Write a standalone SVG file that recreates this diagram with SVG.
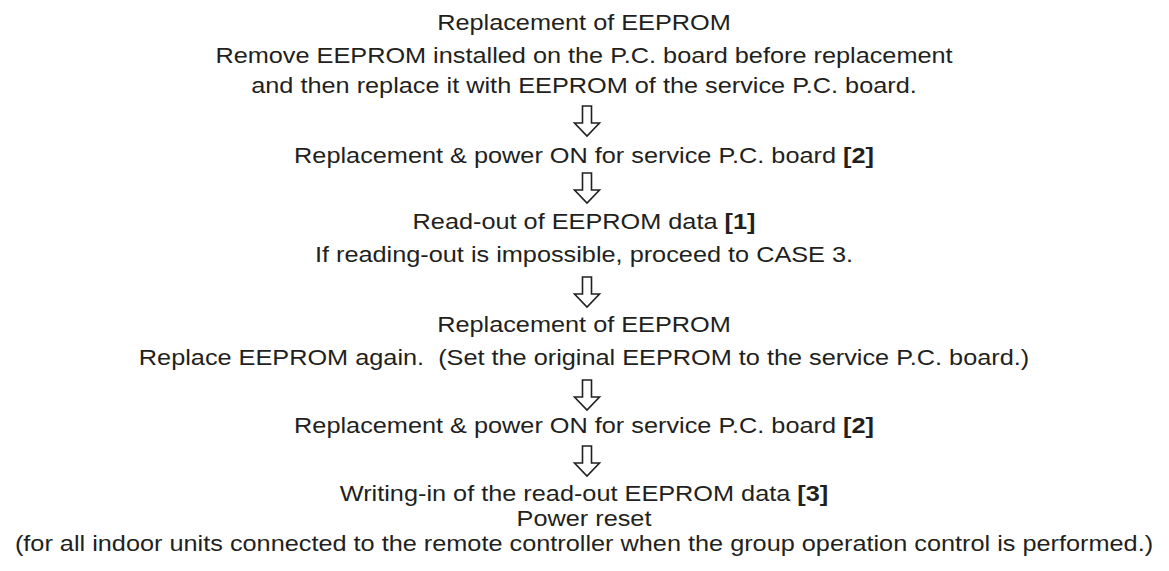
<svg xmlns="http://www.w3.org/2000/svg" width="1169" height="571" viewBox="0 0 1169 571">
<style>
text{font-family:"Liberation Sans",Arial,Helvetica,sans-serif;font-size:22px;fill:#231f20;text-anchor:middle;white-space:pre}
.b{font-weight:bold}
.arr{fill:#fff;stroke:#231f20;stroke-width:1.6;stroke-linejoin:miter}
</style>
<defs>
<path id="ar" class="arr" d="M-4.5,0 H4.5 V17 H12.5 L0,30 L-12.5,17 H-4.5 Z"/>
</defs>
<rect width="1169" height="571" fill="#fff"/>
<g transform="translate(584,0) scale(1.15,1)">
<g id="step1">
<text x="0" y="30">Replacement of EEPROM</text>
<text x="0" y="63">Remove EEPROM installed on the P.C. board before replacement</text>
<text x="0" y="93">and then replace it with EEPROM of the service P.C. board.</text>
</g>
<g id="step2">
<text x="0" y="163">Replacement &amp; power ON for service P.C. board <tspan class="b">[2]</tspan></text>
</g>
<g id="step3">
<text x="0" y="229">Read-out of EEPROM data <tspan class="b">[1]</tspan></text>
<text x="0" y="262">If reading-out is impossible, proceed to CASE 3.</text>
</g>
<g id="step4">
<text x="0" y="332">Replacement of EEPROM</text>
<text x="0" y="365">Replace EEPROM again.  (Set the original EEPROM to the service P.C. board.)</text>
</g>
<g id="step5">
<text x="0" y="433">Replacement &amp; power ON for service P.C. board <tspan class="b">[2]</tspan></text>
</g>
<g id="step6">
<text x="0" y="501">Writing-in of the read-out EEPROM data <tspan class="b">[3]</tspan></text>
<text x="0" y="526">Power reset</text>
<text x="0" y="551">(for all indoor units connected to the remote controller when the group operation control is performed.)</text>
</g>
</g>
<g id="connectors">
<use href="#ar" x="587" y="106"/>
<use href="#ar" x="587" y="173"/>
<use href="#ar" x="587" y="277"/>
<use href="#ar" x="587" y="380"/>
<use href="#ar" x="587" y="446"/>
</g>
</svg>
